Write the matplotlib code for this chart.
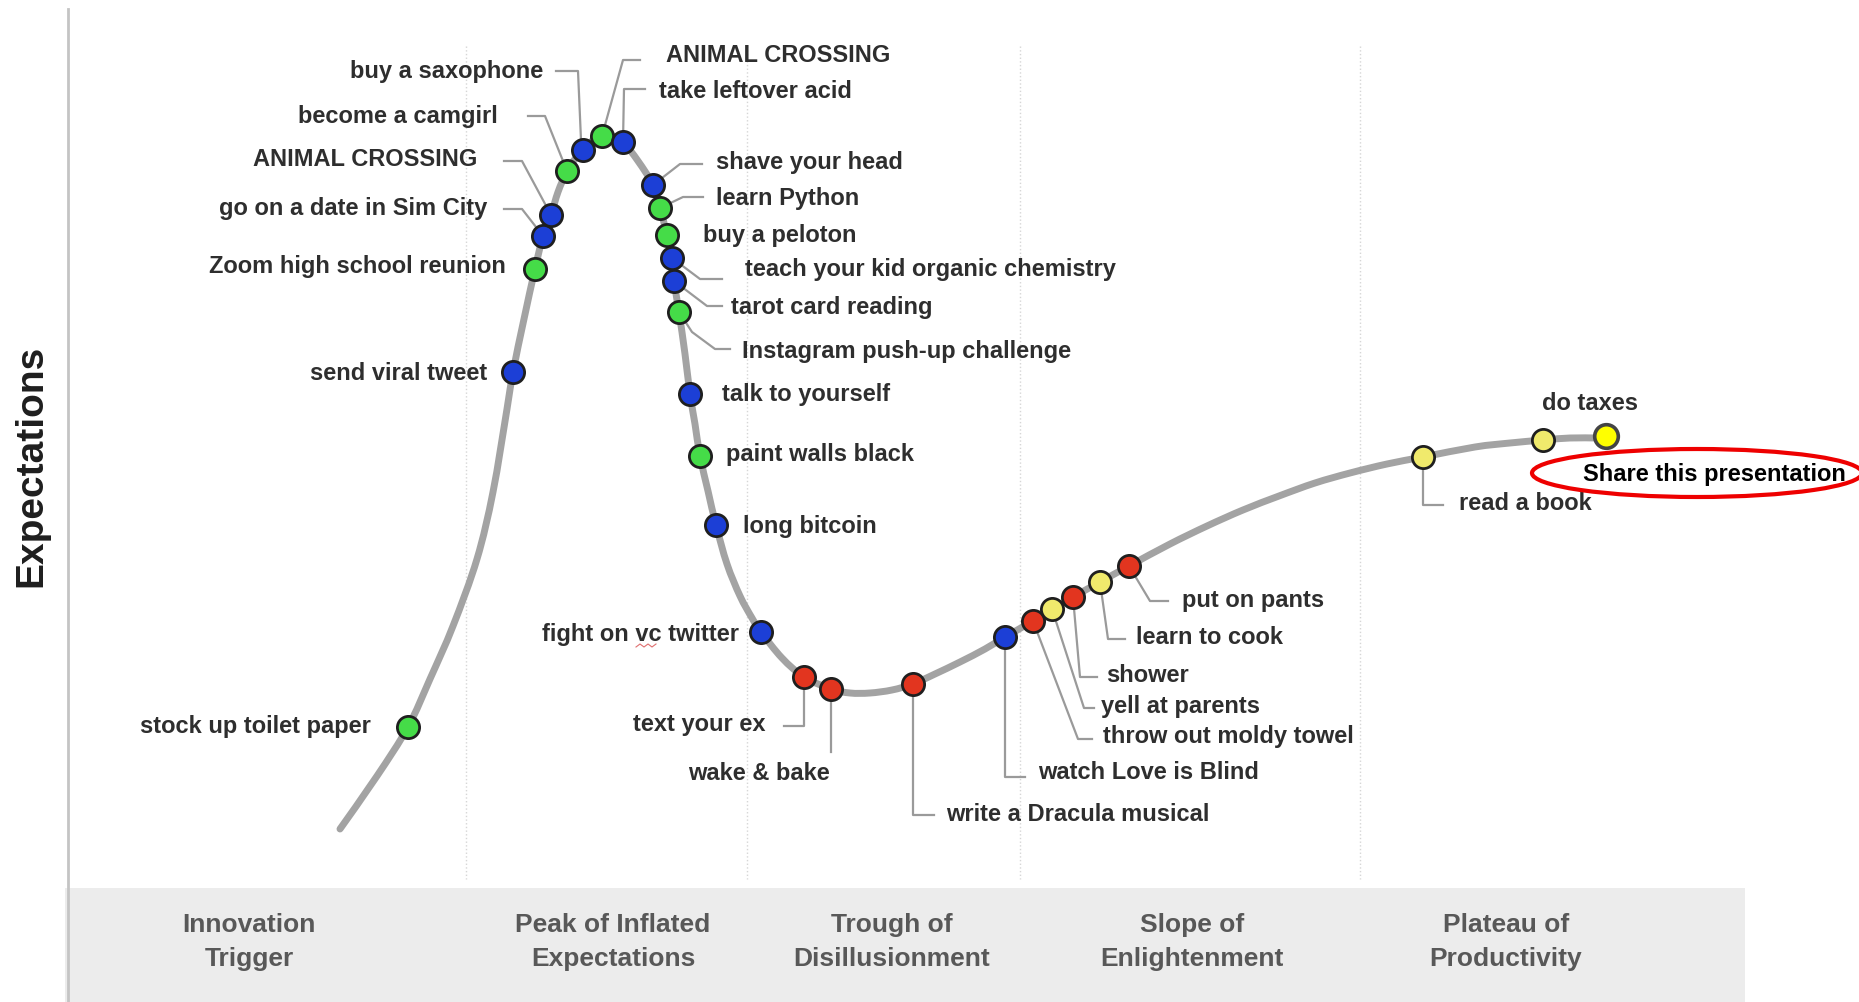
import matplotlib
matplotlib.use('Agg')
import matplotlib.pyplot as plt
from matplotlib.patches import Ellipse, Rectangle, PathPatch
from matplotlib.path import Path

plt.rcParams['font.family'] = ['Liberation Sans', 'DejaVu Sans']

# --- values (pixel space of the 1859x1003 image) ---

# the hype curve itself
curve_x = [340, 377, 408, 430, 453, 477, 493, 507, 513, 524, 535, 543, 551, 558,
           567, 575, 583, 592, 602, 612, 623, 638, 653, 660, 667, 672, 674, 679,
           685, 690, 695, 700, 708, 716, 727, 740, 752, 761, 782, 804, 831, 850,
           870, 892, 913, 935, 960, 985, 1005, 1033, 1052, 1073, 1100, 1129, 1170,
           1207, 1243, 1279, 1315, 1350, 1387, 1423, 1475, 1510, 1543, 1570, 1596]
curve_y = [830, 777, 728, 680, 627, 560, 493, 410, 373, 320, 270, 237, 216, 193,
           172, 160, 151, 142, 137, 137, 143, 162, 186, 209, 236, 259, 282, 313,
           355, 395, 425, 457, 492, 526, 565, 597, 619, 633, 659, 678, 690, 694,
           694, 691, 685, 675, 663, 650, 638, 622, 610, 598, 583, 567, 545,
           527, 511, 497, 484, 474, 465, 458, 448, 444, 441, 439, 439]

# items placed on the curve
item_names = ['stock up toilet paper', 'send viral tweet', 'Zoom high school reunion',
              'go on a date in Sim City', 'ANIMAL CROSSING', 'become a camgirl',
              'buy a saxophone', 'ANIMAL CROSSING', 'take leftover acid',
              'shave your head', 'learn Python', 'buy a peloton',
              'teach your kid organic chemistry', 'tarot card reading',
              'Instagram push-up challenge', 'talk to yourself', 'paint walls black',
              'long bitcoin', 'fight on vc twitter', 'text your ex', 'wake & bake',
              'write a Dracula musical', 'watch Love is Blind', 'throw out moldy towel',
              'yell at parents', 'shower', 'learn to cook', 'put on pants',
              'read a book', 'do taxes', 'Share this presentation']
item_x = [408, 513, 535, 543, 551, 567, 583, 602, 623, 653, 660, 667, 672, 674,
          679, 690, 700, 716, 761, 804, 831, 913, 1005, 1033, 1052, 1073, 1100,
          1129, 1423, 1543, 1606]
item_y = [728, 373, 270, 237, 216, 172, 151, 137, 143, 186, 209, 236, 259, 282,
          313, 395, 457, 526, 633, 678, 690, 685, 638, 622, 610, 598, 583,
          567, 458, 441, 437]
item_group = ['g', 'b', 'g', 'b', 'b', 'g', 'b', 'g', 'b', 'b', 'g', 'g', 'b', 'b',
              'g', 'b', 'g', 'b', 'b', 'r', 'r', 'r', 'b', 'r', 'y', 'r', 'y',
              'r', 'y', 'y', 's']

phase_names = ['Innovation\nTrigger', 'Peak of Inflated\nExpectations',
               'Trough of\nDisillusionment', 'Slope of\nEnlightenment',
               'Plateau of\nProductivity']

# --- layout / styling ---
group_colors = {'b': '#1c3fd6', 'g': '#45dc48', 'r': '#e2351f',
                'y': '#f0ea6c', 's': '#ffff00'}

# label anchor (x, y, ha) and elbow points of the leader (dot end added below)
label_layout = [
    (371, 727, 'right', None),
    (487, 373, 'right', None),
    (506, 266, 'right', None),
    (487, 208, 'right', [(504, 210), (522, 210)]),
    (477, 159, 'right', [(504, 162), (522, 162)]),
    (498, 116, 'right', [(528, 117), (545, 117)]),
    (543, 71, 'right', [(556, 72), (578, 72), (581, 141)]),
    (666, 55, 'left', [(640, 61), (623, 61)]),
    (659, 91, 'left', [(645, 90), (624, 90)]),
    (716, 162, 'left', [(702, 165), (680, 165)]),
    (716, 198, 'left', [(703, 198), (683, 198)]),
    (703, 235, 'left', None),
    (745, 269, 'left', [(722, 280), (700, 280)]),
    (731, 307, 'left', [(722, 307), (707, 307)]),
    (742, 351, 'left', [(730, 350), (715, 350), (692, 333)]),
    (722, 394, 'left', None),
    (726, 454, 'left', None),
    (743, 526, 'left', None),
    (739, 634, 'right', None),
    (766, 724, 'right', [(784, 727), (804, 727)]),
    (830, 774, 'right', [(831, 753)]),
    (946, 815, 'left', [(934, 816), (913, 816)]),
    (1038, 773, 'left', [(1025, 778), (1005, 778)]),
    (1103, 737, 'left', [(1092, 740), (1078, 740)]),
    (1101, 707, 'left', [(1094, 709), (1084, 709)]),
    (1106, 676, 'left', [(1097, 678), (1080, 678)]),
    (1136, 638, 'left', [(1125, 640), (1108, 640)]),
    (1182, 600, 'left', [(1168, 602), (1150, 602)]),
    (1459, 503, 'left', [(1443, 506), (1423, 506)]),
    (1590, 403, 'center', None),
    (1714, 474, 'center', None),
]
phase_x = [249, 613, 892, 1192, 1506]
divider_x = [466, 747, 1020, 1360]


def smooth_path(xs, ys):
    # Catmull-Rom through the read points, drawn as cubic Bezier segments
    pts = list(zip(xs, ys))
    verts = [pts[0]]
    codes = [Path.MOVETO]
    for i in range(len(pts) - 1):
        p0 = pts[max(i - 1, 0)]
        p1 = pts[i]
        p2 = pts[i + 1]
        p3 = pts[min(i + 2, len(pts) - 1)]
        c1 = (p1[0] + (p2[0] - p0[0]) / 6, p1[1] + (p2[1] - p0[1]) / 6)
        c2 = (p2[0] - (p3[0] - p1[0]) / 6, p2[1] - (p3[1] - p1[1]) / 6)
        verts += [c1, c2, p2]
        codes += [Path.CURVE4] * 3
    return Path(verts, codes)


fig = plt.figure(figsize=(18.59, 10.03), dpi=100)
ax = fig.add_axes([0, 0, 1, 1])
ax.set_xlim(0, 1859)
ax.set_ylim(1003, 0)
ax.axis('off')

# phase band and guides
ax.add_patch(Rectangle((65, 889), 1680, 114, facecolor='#ececec', edgecolor='none', zorder=0))
ax.plot([68, 68], [10, 1003], color='#c4c4c4', lw=2, zorder=1)
for dx in divider_x:
    ax.plot([dx, dx], [47, 880], color='#d6d6d6', lw=1, ls=':', zorder=1)

for name, px in zip(phase_names, phase_x):
    ax.text(px, 942, name, ha='center', va='center', fontsize=19, fontweight='bold',
            color='#585858', linespacing=1.55)

ax.text(31, 466, 'Expectations', rotation=90, ha='center', va='center',
        fontsize=28, fontweight='bold', color='#1e1e1e')

# curve
ax.add_patch(PathPatch(smooth_path(curve_x, curve_y), facecolor='none',
                       edgecolor='#a3a3a3', lw=5, capstyle='round',
                       joinstyle='round', zorder=2))

# leaders and labels
for i, (tx, ty, ha, elbow) in enumerate(label_layout):
    if elbow:
        pts = elbow + [(item_x[i], item_y[i])]
        ax.plot([p[0] for p in pts], [p[1] for p in pts], color='#9a9a9a', lw=1.6,
                zorder=3)
    color = '#000000' if item_group[i] == 's' else '#2e2e2e'
    ax.text(tx, ty, item_names[i], ha=ha, va='center', fontsize=17,
            fontweight='bold', color=color, zorder=6)

# spell-check squiggle under "vc"
ax.plot([636, 640, 644, 648, 652, 656], [648, 645, 648, 645, 648, 645],
        color='#e07070', lw=0.8, zorder=6)

# dots
for i, g in enumerate(item_group):
    if g == 's':
        ax.plot(item_x[i], item_y[i], 'o', ms=17, mfc=group_colors[g], mec='#444444',
                mew=2.6, zorder=5)
    else:
        ax.plot(item_x[i], item_y[i], 'o', ms=16, mfc=group_colors[g], mec='#1f1f1f',
                mew=2, zorder=4)

# highlight ring
ax.add_patch(Ellipse((1697, 474), 330, 48, facecolor='none', edgecolor='#ee0000',
                     lw=3, zorder=7))

fig.savefig('out.png', dpi=100)
